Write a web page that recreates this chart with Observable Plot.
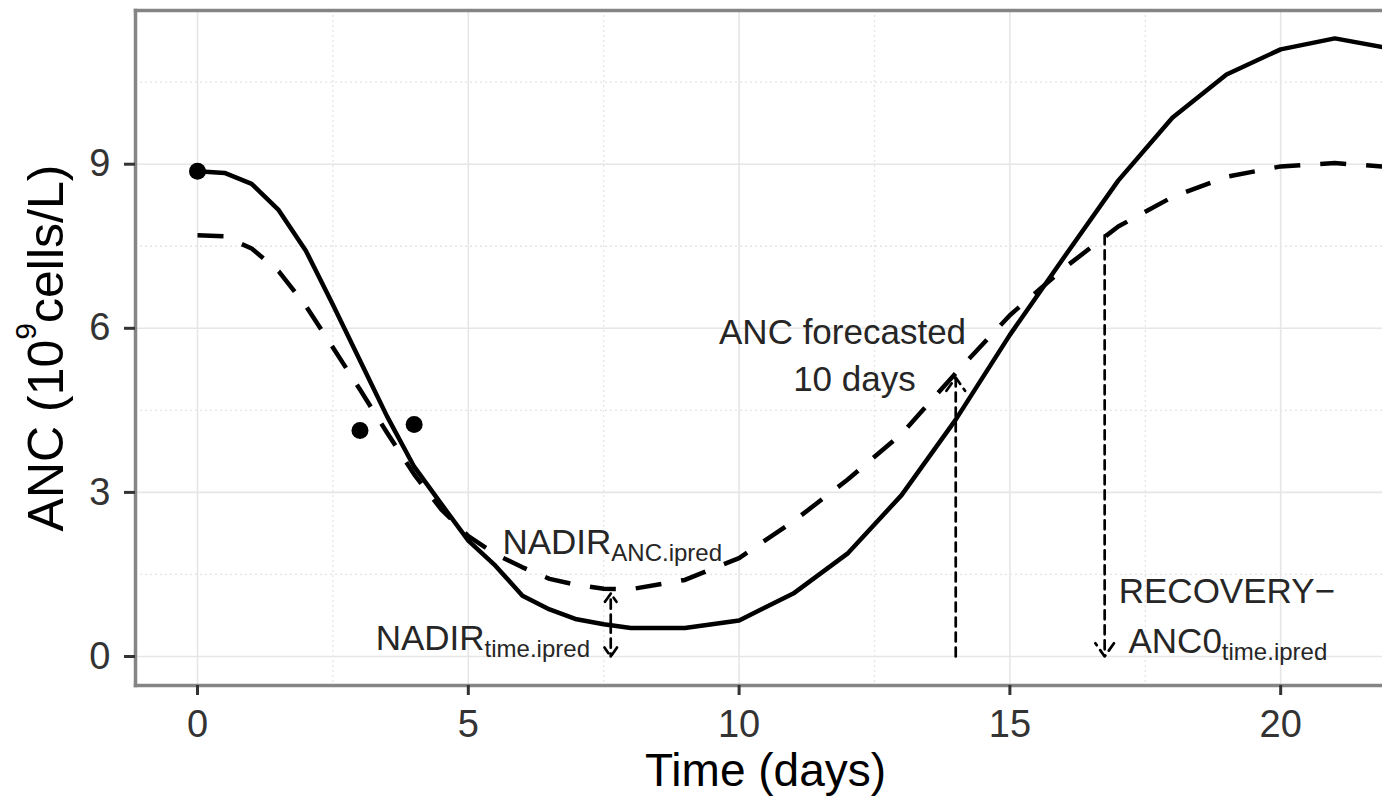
<!DOCTYPE html>
<html><head><meta charset="utf-8">
<script src="https://cdn.jsdelivr.net/npm/d3@7"></script>
<script src="https://cdn.jsdelivr.net/npm/@observablehq/plot@0.6"></script>
<style>html,body{margin:0;padding:0;background:#fff;overflow:hidden}</style>
</head><body><div id="chart"></div>
<script>
// ---- data ----
const timeGrid  = [0,0.5,1,1.5,2,2.5,3,3.5,4,4.5,5,5.5,6,6.5,7,7.5,8,9,10,11,12,13,14,15,16,17,18,19,20,21,22];
const ancSolid  = [8.87,8.84,8.64,8.16,7.42,6.43,5.41,4.39,3.47,2.79,2.12,1.66,1.11,0.86,0.68,0.59,0.52,0.52,0.66,1.15,1.88,2.95,4.33,5.88,7.3,8.7,9.85,10.64,11.1,11.3,11.12];
const ancDashed = [7.7,7.68,7.46,7.04,6.41,5.65,4.88,4.09,3.33,2.69,2.2,1.87,1.63,1.42,1.31,1.24,1.23,1.4,1.8,2.47,3.23,4.07,5.18,6.24,7.1,7.86,8.4,8.77,8.96,9.02,8.95];
const obsTime = [0,3,4];
const obsANC  = [8.87,4.13,4.24];

const arrowX    = [7.63, 7.63, 14, 16.75];
const arrowFrom = [0.6, 0.6, 0, 7.7];
const arrowTo   = [1.15, 0, 5.1, 0];

const centerLabels  = ["ANC forecasted", "10 days"];
const centerLabelX  = [11.91, 12.13];
const centerLabelY  = [5.72, 4.86];
const startLabels   = ["NADIR_ANC.ipred", "NADIR_time.ipred", "RECOVERY\u2212", "ANC0_time.ipred"];
const startLabelX   = [5.63, 3.29, 17.01, 17.19];
const startLabelY   = [1.88, 0.11, 0.97, 0.07];

const xTicks = [0,5,10,15,20];
const yTicks = [0,3,6,9];
const xMinor = [2.5,7.5,12.5,17.5];
const yMinor = [1.5,4.5,7.5,10.5];
const xTitle = "Time (days)";
const yTitle = "ANC (10^9^cells/L)";

// ---- build tables ----
const solid  = timeGrid.map((t,i)=>({t, v: ancSolid[i]}));
const dashed = timeGrid.map((t,i)=>({t, v: ancDashed[i]}));
const obs    = obsTime.map((t,i)=>({t, v: obsANC[i]}));
const arrows = arrowX.map((x,i)=>({x, from: arrowFrom[i], to: arrowTo[i]}));
const cLab   = centerLabels.map((s,i)=>({s, x: centerLabelX[i], y: centerLabelY[i]}));
const sLab   = startLabels.map((s,i)=>({s, x: startLabelX[i], y: startLabelY[i]}));

const chart = Plot.plot({
  width: 1382, height: 797,
  marginLeft: 135, marginRight: 0, marginTop: 10, marginBottom: 112,
  style: {fontFamily: "'Liberation Sans', Arial, Helvetica, sans-serif", background: "#fff"},
  x: {domain: [-1.145, 21.88]},
  y: {domain: [-0.53, 11.81]},
  marks: [
    Plot.ruleX(xMinor, {stroke: "#e4e4e4", strokeWidth: 1.3, strokeDasharray: "2,3"}),
    Plot.ruleY(yMinor, {stroke: "#e4e4e4", strokeWidth: 1.3, strokeDasharray: "2,3"}),
    Plot.ruleX(xTicks, {stroke: "#e6e6e6", strokeWidth: 1.6}),
    Plot.ruleY(yTicks, {stroke: "#e6e6e6", strokeWidth: 1.6}),
    Plot.frame({anchor: "left", stroke: "#858585", strokeWidth: 3.5}),
    Plot.frame({anchor: "top", stroke: "#858585", strokeWidth: 3.5}),
    Plot.frame({anchor: "bottom", stroke: "#858585", strokeWidth: 3.5}),
    Plot.line(dashed, {x: "t", y: "v", stroke: "#000", strokeWidth: 4.5, strokeDasharray: "26,20", strokeLinecap: "butt", clip: true}),
    Plot.line(solid, {x: "t", y: "v", stroke: "#000", strokeWidth: 4.5, clip: true}),
    Plot.arrow(arrows, {x1: "x", x2: "x", y1: "from", y2: "to", stroke: "#000", strokeWidth: 2.7, strokeDasharray: "9,6", headLength: 9, headAngle: 70}),
    Plot.dot(obs, {x: "t", y: "v", r: 8.5, fill: "#000"}),
    Plot.text(cLab, {x: "x", y: "y", text: "s", textAnchor: "middle", lineAnchor: "bottom", fontSize: 35, fill: "#262626"}),
    Plot.text(sLab, {x: "x", y: "y", text: "s", textAnchor: "start", lineAnchor: "bottom", fontSize: 35, fill: "#262626"}),
    Plot.axisX({ticks: xTicks, tickSize: 10, tickPadding: 15, fontSize: 38, strokeWidth: 3, color: "#333", label: null}),
    Plot.axisY({ticks: yTicks, tickSize: 11, tickPadding: 14, fontSize: 38, strokeWidth: 3, color: "#333", label: null}),
    Plot.text([xTitle], {text: d => d, frameAnchor: "bottom", textAnchor: "middle", lineAnchor: "bottom", dy: 100, dx: 6.5, fontSize: 46, fill: "#000"}),
    Plot.text([yTitle], {text: d => d, frameAnchor: "left", textAnchor: "middle", lineAnchor: "bottom", rotate: -90, dx: -73, fontSize: 50, fill: "#000"})
  ]
});
document.getElementById("chart").appendChild(chart);

// rich text: subscripts (_) and superscripts (^)
d3.select(chart).selectAll("text").each(function() {
  const t = this.textContent;
  if (this.querySelector("tspan")) return;
  if (t.includes("_")) {
    const [main, sub] = t.split("_");
    this.textContent = "";
    const sel = d3.select(this);
    sel.append("tspan").text(main);
    sel.append("tspan").attr("font-size", 24).attr("dy", 7).text(sub);
  } else if (t.includes("^")) {
    const [a, b, c] = t.split("^");
    this.textContent = "";
    const sel = d3.select(this);
    sel.append("tspan").text(a);
    sel.append("tspan").attr("font-size", 30).attr("dy", -27).text(b);
    sel.append("tspan").attr("dy", 27).text(c);
  }
});
</script>
</body></html>
